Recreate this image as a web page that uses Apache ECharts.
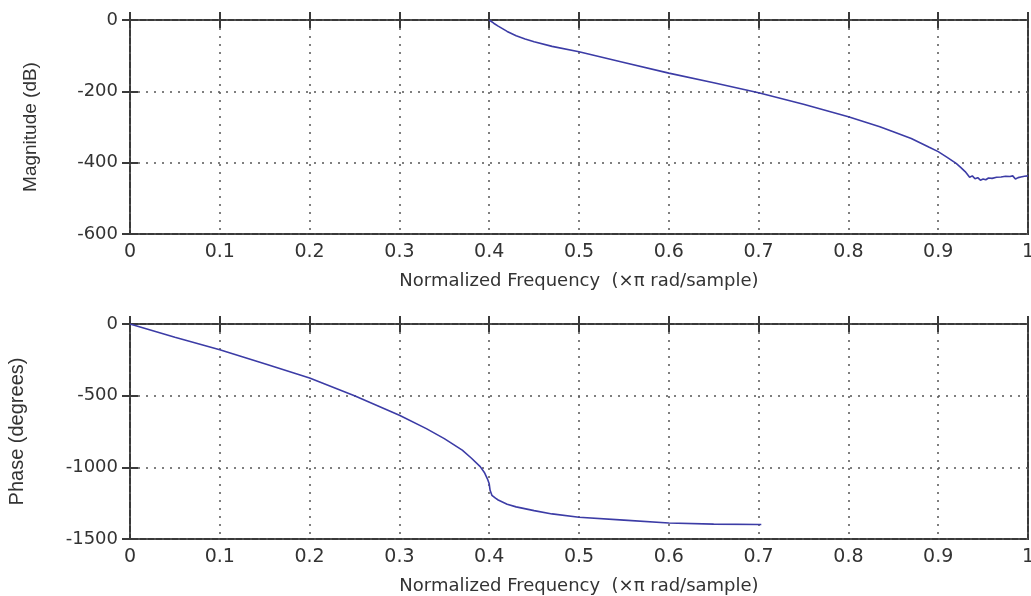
<!DOCTYPE html>
<html>
<head>
<meta charset="utf-8">
<script src="https://cdn.jsdelivr.net/npm/echarts@6/dist/echarts.min.js"></script>
<style>html,body{margin:0;padding:0;background:#fff;}#c{width:1031px;height:596px;}</style>
</head>
<body>
<div id="c"></div>
<script>
const magFreq = [0.4,0.405,0.41,0.42,0.43,0.44,0.45,0.47,0.5,0.55,0.6,0.65,0.7,0.75,0.8,0.835,0.85,0.87,0.89,0.9,0.91,0.92,0.925,0.93,0.935,0.938,0.941,0.944,0.947,0.95,0.953,0.956,0.96,0.965,0.97,0.975,0.98,0.983,0.986,0.989,0.992,0.996,1.0];
const magDb =   [0,-9,-17,-32,-44,-53,-61,-74,-89,-119,-149,-176,-204,-236,-271,-299,-313,-332,-357,-369,-385,-402,-413,-425,-441,-437,-445,-442,-449,-446,-448,-443,-444,-441,-440,-438,-439,-437,-446,-442,-440,-438,-437];
const phaseFreq = [0,0.05,0.1,0.15,0.2,0.25,0.3,0.33,0.35,0.37,0.38,0.39,0.395,0.398,0.4,0.401,0.403,0.407,0.41,0.42,0.43,0.45,0.47,0.5,0.55,0.6,0.65,0.7,0.703];
const phaseDeg = [0,-92,-180,-278,-376,-500,-636,-730,-800,-880,-935,-995,-1040,-1080,-1115,-1160,-1195,-1215,-1228,-1258,-1276,-1302,-1325,-1348,-1368,-1388,-1396,-1399,-1399];
const xTicks = ['0','0.1','0.2','0.3','0.4','0.5','0.6','0.7','0.8','0.9','1'];
const xTitle = 'Normalized Frequency  (\u00d7\u03c0 rad/sample)';
const magTitle = 'Magnitude (dB)';
const phaseTitle = 'Phase (degrees)';

const FONT = 'DejaVu Sans';
const frame = '#3a3a3a';
const gridCol = '#555';
const lineCol = '#3c3ca6';
const textCol = '#333';

function xAx(gi, withName) {
  return {
    type: 'value', gridIndex: gi, min: 0, max: 1, interval: 0.1,
    axisLine: {show: false},
    axisTick: {show: true, inside: true, length: 8, lineStyle: {color: frame, width: 2}},
    axisLabel: {show: withName, margin: 9, color: textCol, fontFamily: FONT, fontSize: 19,
      formatter: v => xTicks[Math.round(v * 10)]},
    splitLine: {show: withName, lineStyle: {color: gridCol, type: [2, 6], width: 1.5}},
    name: withName ? xTitle : '', nameLocation: 'middle', nameGap: 38,
    nameTextStyle: {color: textCol, fontFamily: FONT, fontSize: 18}
  };
}
function yAx(gi, min, interval, name, gap, fs, withName) {
  return {
    type: 'value', gridIndex: gi, min: min, max: 0, interval: interval,
    axisLine: {show: false},
    axisTick: {show: true, inside: true, length: 8, lineStyle: {color: frame, width: 2}},
    axisLabel: {show: withName, margin: 12, color: textCol, fontFamily: FONT, fontSize: 18,
      formatter: v => String(v)},
    splitLine: {show: withName, lineStyle: {color: gridCol, type: [2, 6], width: 1.5}},
    name: withName ? name : '', nameLocation: 'middle', nameGap: gap,
    nameTextStyle: {color: textCol, fontFamily: 'Liberation Sans', fontSize: fs}
  };
}

const chart = echarts.init(document.getElementById('c'), null, {renderer: 'canvas'});
chart.setOption({
  animation: false,
  backgroundColor: '#fff',
  grid: [
    {left: 130, top: 20, width: 898, height: 214, show: true, borderColor: frame, borderWidth: 2, backgroundColor: 'transparent', outerBoundsMode: 'none', containLabel: false},
    {left: 130, top: 324, width: 898, height: 215, show: true, borderColor: frame, borderWidth: 2, backgroundColor: 'transparent', outerBoundsMode: 'none', containLabel: false}
  ],
  xAxis: [
    xAx(0, true), Object.assign(xAx(0, false), {position: 'top'}),
    xAx(1, true), Object.assign(xAx(1, false), {position: 'top'})
  ],
  yAxis: [
    yAx(0, -600, 200, magTitle, 90, 19, true), Object.assign(yAx(0, -600, 200, '', 0, 19, false), {position: 'right'}),
    yAx(1, -1500, 500, phaseTitle, 103, 20, true), Object.assign(yAx(1, -1500, 500, '', 0, 20, false), {position: 'right'})
  ],
  series: [
    {type: 'line', xAxisIndex: 0, yAxisIndex: 0, showSymbol: false, symbol: 'none',
      lineStyle: {color: lineCol, width: 1.6}, data: magFreq.map((f, i) => [f, magDb[i]])},
    {type: 'line', xAxisIndex: 2, yAxisIndex: 2, showSymbol: false, symbol: 'none',
      lineStyle: {color: lineCol, width: 1.6}, data: phaseFreq.map((f, i) => [f, phaseDeg[i]])}
  ]
});
</script>
</body>
</html>
